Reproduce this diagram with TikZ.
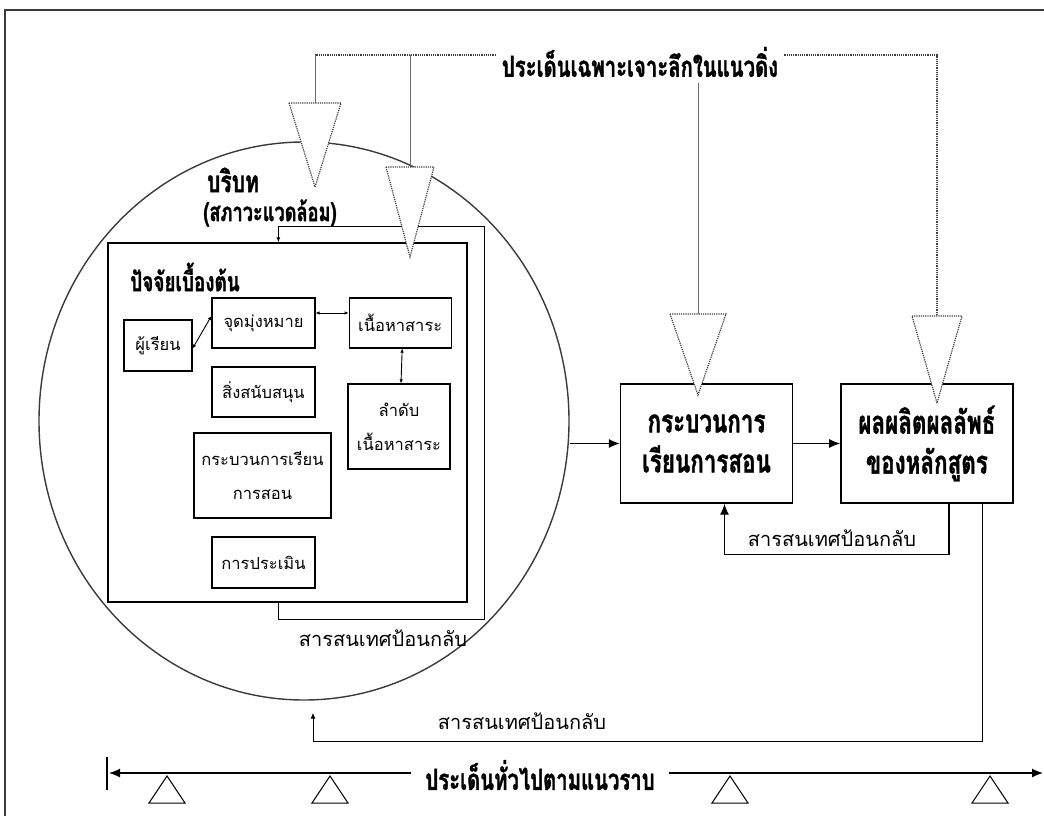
\documentclass[tikz,border=0pt]{standalone}
\usepackage{fontspec}
\usetikzlibrary{arrows.meta, positioning, calc, shapes.geometric}
\newfontfamily\thaifont[Script=Thai]{Loma}
\newfontfamily\thaicond[Script=Thai, FakeStretch=0.7, FakeBold=1.2]{Loma}
\definecolor{framegray}{HTML}{3A3A3A}
\definecolor{linegray}{HTML}{6A6A6A}
\definecolor{dotgray}{HTML}{404040}
\tikzset{
  sbox/.style={draw=black, line width=1.2pt, align=center, inner sep=2pt,
               font=\thaifont\fontsize{16.5}{34}\selectfont},
  bbox/.style={draw=black, line width=1.4pt, align=center, minimum width=172,
               minimum height=119, font=\thaicond\bfseries\fontsize{32}{40}\selectfont},
  head/.style={font=\thaicond\bfseries\fontsize{29}{30}\selectfont, inner sep=6pt},
  fbtext/.style={font=\thaifont\fontsize{20}{22}\selectfont},
  flow/.style={-{Latex[length=11pt,width=9pt]}, line width=1.2pt},
  biflow/.style={{Latex[length=4pt,width=3.5pt]}-{Latex[length=4pt,width=3.5pt]}, line width=0.9pt},
  fbline/.style={line width=1.2pt},
  funnel/.style={draw=dotgray, densely dotted, line width=1.2pt, fill=white},
  guide/.style={draw=linegray, line width=1pt},
  dotline/.style={draw=dotgray, densely dotted, line width=1.2pt},
  pivot/.style={draw=black, line width=1pt},
}
% funnel: x, top y, half width, tip y
\newcommand{\funnel}[4]{\draw[funnel] (#1-#3,#2) -- (#1+#3,#2) -- (#1,#4) -- cycle;}

\begin{document}
\begin{tikzpicture}[x=1pt, y=-1pt]
  \useasboundingbox (0,0) rectangle (1044,816);
  \draw[framegray, line width=1.5pt] (5,816) -- (5,10) -- (1044,10);

  % context circle
  \node (ctx) [ellipse, draw=framegray, line width=1.4pt, minimum width=530,
               minimum height=558, inner sep=0pt] at (304,421) {};
  \node (ctxa) [head, inner sep=0pt, font=\thaicond\bfseries\fontsize{30}{30}\selectfont] at (233,180) {บริบท};
  \node (ctxb) [head, inner sep=0pt, font=\thaicond\bfseries\fontsize{26}{30}\selectfont] at (270,213) {(สภาวะแวดล้อม)};

  % basic factors
  \node (base) [draw=black, line width=1.3pt, minimum width=359, minimum height=359] at (287.5,422.5) {};
  \node (basel) [head, inner sep=0pt, font=\thaicond\bfseries\fontsize{27}{30}\selectfont] at (185,277) {ปัจจัยเบื้องต้น};
  \node (learner) [sbox, minimum width=68, minimum height=51] at (158,345.5) {ผู้เรียน};
  \node (goal) [sbox, minimum width=103, minimum height=50] at (263.5,323) {จุดมุ่งหมาย};
  \node (content) [sbox, minimum width=102, minimum height=50, right=33pt of goal] {เนื้อหาสาระ};
  \node (support) [sbox, minimum width=103, minimum height=50] at (263.5,392) {สิ่งสนับสนุน};
  \node (seq) [sbox, minimum width=102, minimum height=85] at (399,426.5) {ลำดับ\\เนื้อหาสาระ};
  \node (tproc) [sbox, minimum width=137, minimum height=85] at (262.5,475.5) {กระบวนการเรียน\\การสอน};
  \node (eval) [sbox, minimum width=103, minimum height=51] at (263.5,562.5) {การประเมิน};
  \draw[biflow] ([yshift=-3pt]learner.east) -- ([yshift=7pt]goal.west);
  \draw[biflow] ([yshift=10pt]goal.east) -- ([yshift=10pt]content.west);
  \draw[biflow] ([xshift=2pt]content.south) -- ([xshift=2pt]seq.north);
  \draw[fbline, -{Latex[length=5pt,width=4pt]}] ([xshift=171pt]base.south west) -- ++(0,17) -- ++(206,0)
    |- ([xshift=171pt,yshift=16pt]base.north west) -- ([xshift=171pt]base.north west);
  \node (fba) [fbtext] at (383,638) {สารสนเทศป้อนกลับ};

  % process and product
  \node (proc) [bbox] at (706.5,443.5) {กระบวนการ\\เรียนการสอน};
  \node (prod) [bbox, right=47pt of proc] {ผลผลิตผลลัพธ์\\ของหลักสูตร};
  \draw[flow] (proc.west -| ctx.east) -- (proc.west);
  \draw[flow] (proc) -- (prod);
  \draw[flow] ([xshift=22pt]prod.south) -- ++(0,51) -| ([xshift=18pt]proc.south);
  \node (fbb) [fbtext] at (832,538) {สารสนเทศป้อนกลับ};
  \draw[line width=1pt, -{Latex[length=6pt,width=5pt]}] ([xshift=56pt]prod.south) -- ++(0,238)
    -| ([xshift=9pt,yshift=-12pt]ctx.south);
  \node (fbc) [fbtext] at (522,721) {สารสนเทศป้อนกลับ};

  % vertical (in-depth) issues
  \node (deep) [head] at (640,62) {ประเด็นเฉพาะเจาะลึกในแนวดิ่ง};
  \coordinate (t1) at (315,103);
  \coordinate (t2) at (410,167);
  \coordinate (t3) at (698,314);
  \coordinate (t4) at (937,316);
  \draw[dotline] ([yshift=7pt]deep.west) -- ([yshift=7pt]deep.west -| t1);
  \draw[guide] ([yshift=7pt]deep.west -| t1) -- (t1);
  \draw[guide] ([yshift=7pt]deep.west -| t2) -- (t2);
  \draw[guide] (deep.south -| t3) -- (t3);
  \draw[dotline] ([yshift=7pt]deep.east) -| (t4);
  \funnel{315}{103}{26}{187}
  \funnel{410}{167}{24}{257}
  \funnel{698}{314}{28}{395}
  \funnel{937}{316}{25}{403}

  % horizontal (general) issues
  \node (flat) [head, inner xsep=14pt] at (540,775) {ประเด็นทั่วไปตามแนวราบ};
  \coordinate (lend) at (109,773);
  \coordinate (rend) at (1043,773);
  \draw[line width=2.2pt] (107,757) -- (107,790);
  \draw[flow] (flat.west |- lend) -- (lend);
  \draw[flow] (flat.east |- rend) -- (rend);
  \foreach \px in {167,330,730,990}
    \draw[pivot] (\px,776) -- (\px+18,803) -- (\px-18,803) -- cycle;
\end{tikzpicture}
\end{document}
